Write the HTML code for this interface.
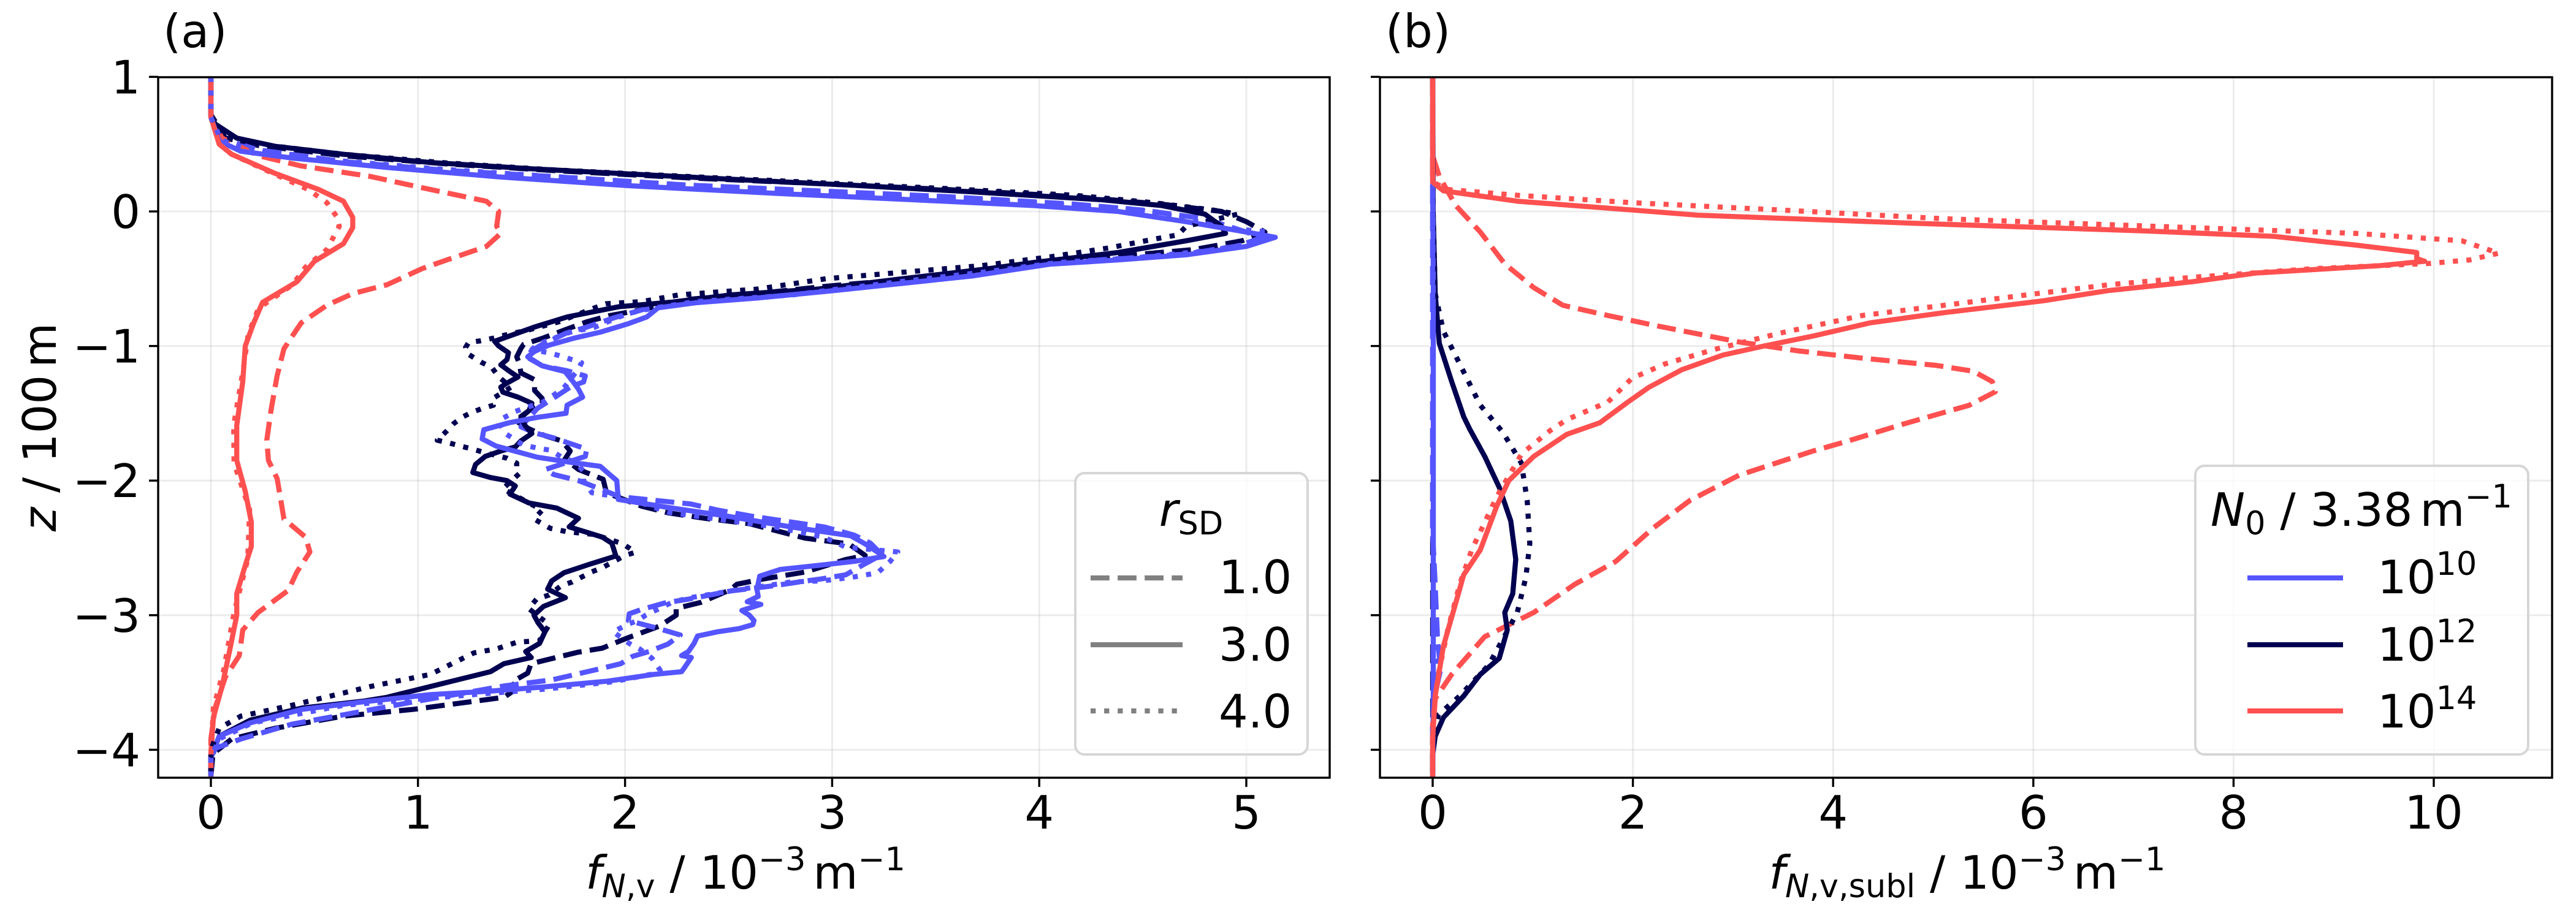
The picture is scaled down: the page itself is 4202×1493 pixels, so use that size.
<!DOCTYPE html>
<html>
<head>
<meta charset="utf-8">
<title>Vertical profiles of f_N,v and f_N,v,subl</title>
<style>
html,body{margin:0;padding:0;background:#fff;}
svg{display:block;font-family:"DejaVu Sans","Liberation Sans",sans-serif;}
</style>
</head>
<body>
<svg id="figure" xmlns="http://www.w3.org/2000/svg" width="4202" height="1493" viewBox="0 0 4202 1493">
  <defs>
    <clipPath id="clip-a"><rect x="258" y="126" width="1911" height="1143"/></clipPath>
    <clipPath id="clip-b"><rect x="2251" y="126" width="1912" height="1143"/></clipPath>
  </defs>
  <rect x="0" y="0" width="4202" height="1493" fill="#fff"/>
  <g id="panel-a">
    <g id="grid-a"></g>
    <g id="lines-a" clip-path="url(#clip-a)"></g>
    <g id="ticks-a"></g>
    <rect x="258" y="126" width="1911" height="1143" fill="none" stroke="#000" stroke-width="3.4"/>
  </g>
  <g id="panel-b">
    <g id="grid-b"></g>
    <g id="lines-b" clip-path="url(#clip-b)"></g>
    <g id="ticks-b"></g>
    <rect x="2251" y="126" width="1912" height="1143" fill="none" stroke="#000" stroke-width="3.4"/>
  </g>

  <text x="266" y="77" font-size="75">(a)</text>
  <text x="2260" y="77" font-size="75">(b)</text>

  <text transform="translate(91,697) rotate(-90)" text-anchor="middle" font-size="75"><tspan font-style="italic">z</tspan> / 100<tspan dx="12">m</tspan></text>

  <text x="1216" y="1450" text-anchor="middle" font-size="75"><tspan font-style="italic">f</tspan><tspan font-size="52.5" dy="14" font-style="italic">N</tspan><tspan font-size="52.5">,v</tspan><tspan dy="-14"> / 10</tspan><tspan font-size="52.5" dy="-30">−3</tspan><tspan dy="30" dx="12">m</tspan><tspan font-size="52.5" dy="-30">−1</tspan></text>
  <text x="3209" y="1450" text-anchor="middle" font-size="75"><tspan font-style="italic">f</tspan><tspan font-size="52.5" dy="14" font-style="italic">N</tspan><tspan font-size="52.5">,v,subl</tspan><tspan dy="-14"> / 10</tspan><tspan font-size="52.5" dy="-30">−3</tspan><tspan dy="30" dx="12">m</tspan><tspan font-size="52.5" dy="-30">−1</tspan></text>

  <g>
    <rect x="1754" y="772" width="379" height="459" rx="15" ry="15" fill="#fff" fill-opacity="0.8" stroke="#d6d6d6" stroke-width="4"/>
    <text x="1943" y="858" text-anchor="middle" font-size="75"><tspan font-style="italic">r</tspan><tspan font-size="52.5" dy="14">SD</tspan></text>
    <line x1="1779" x2="1929" y1="943" y2="943" stroke="#808080" stroke-width="8.33" stroke-dasharray="30.8 13.3"/>
    <text x="1988" y="968" font-size="75">1.0</text>
    <line x1="1779" x2="1929" y1="1052" y2="1052" stroke="#808080" stroke-width="8.33"/>
    <text x="1988" y="1078" font-size="75">3.0</text>
    <line x1="1779" x2="1929" y1="1160" y2="1160" stroke="#808080" stroke-width="8.33" stroke-dasharray="8.33 13.75"/>
    <text x="1988" y="1187" font-size="75">4.0</text>
  </g>

  <g>
    <rect x="3581" y="760" width="543" height="471" rx="15" ry="15" fill="#fff" fill-opacity="0.8" stroke="#d6d6d6" stroke-width="4"/>
    <text x="3852" y="858" text-anchor="middle" font-size="75"><tspan font-style="italic">N</tspan><tspan font-size="52.5" dy="14">0</tspan><tspan dy="-14"> / 3.38</tspan><tspan dx="12">m</tspan><tspan font-size="52.5" dy="-30">−1</tspan></text>
    <line x1="3666" x2="3822" y1="943" y2="943" stroke="#5555ff" stroke-width="8.33"/>
    <text x="3878" y="968" font-size="75">10<tspan font-size="52.5" dy="-30">10</tspan></text>
    <line x1="3666" x2="3822" y1="1052" y2="1052" stroke="#000050" stroke-width="8.33"/>
    <text x="3878" y="1078" font-size="75">10<tspan font-size="52.5" dy="-30">12</tspan></text>
    <line x1="3666" x2="3822" y1="1160" y2="1160" stroke="#ff5050" stroke-width="8.33"/>
    <text x="3878" y="1187" font-size="75">10<tspan font-size="52.5" dy="-30">14</tspan></text>
  </g>
</svg>
<script>
// ---------- tick labels ----------
const xTicksA = [0, 1, 2, 3, 4, 5];
const xTicksB = [0, 2, 4, 6, 8, 10];
const yTicks = [1, 0, -1, -2, -3, -4];

// ---------- panel (a): f_N,v profiles ----------
const aZ_n10_r1 = [1,.7,.545,.457,.37,.305,.26,.196,.153,.11,
  .054,.01,-.054,-.153,-.196,-.257,-.316,-.353,-.38,-.468,
  -.523,-.577,-.632,-.71,-.79,-.867,-.905,-.988,-1.033,-1.08,
  -1.147,-1.184,-1.222,-1.267,-1.3,-1.365,-1.464,-1.6,-1.645,-1.683,
  -1.766,-1.82,-1.917,-1.955,-2,-2.07,-2.12,-2.174,-2.22,-2.264,
  -2.344,-2.405,-2.465,-2.55,-2.63,-2.7,-2.73,-2.753,-2.783,-2.82,
  -2.88,-2.91,-2.96,-2.99,-3.04,-3.09,-3.147,-3.215,-3.27,-3.306,
  -3.36,-3.405,-3.48,-3.526,-3.645,-3.74,-3.81,-3.92,-3.99,-4.08,
  -4.2];
const aF_n10_r1 = [0,0,.04,.23,.64,1.14,1.64,2.3,2.93,3.55,
  4.17,4.5,4.8,5,5.07,4.96,4.71,4.38,4.05,3.675,
  3.34,3.01,2.64,2.13,1.947,1.8,1.715,1.6,1.55,1.523,
  1.6,1.72,1.808,1.8,1.74,1.676,1.576,1.497,1.563,1.656,
  1.815,1.808,1.616,1.656,1.775,1.894,1.974,2.318,2.45,2.61,
  2.96,3.106,3.185,3.24,3.145,3.066,2.95,2.84,2.71,2.51,
  2.31,2.19,2.075,2.02,2.016,2.14,2.267,2.207,2.115,2.036,
  1.98,1.86,1.65,1.415,.976,.64,.39,.145,.02,0,
  0];
const aZ_n12_r1 = [1,.72,.545,.49,.414,.353,.305,.25,.207,.163,
  .11,.054,0,-.076,-.153,-.218,-.283,-.327,-.37,-.425,
  -.512,-.556,-.61,-.654,-.73,-.776,-.82,-.88,-.943,-.988,
  -1.018,-1.08,-1.13,-1.2,-1.25,-1.33,-1.39,-1.426,-1.48,-1.554,
  -1.615,-1.668,-1.705,-1.78,-1.84,-1.917,-1.99,-2.07,-2.113,-2.19,
  -2.24,-2.28,-2.32,-2.427,-2.47,-2.556,-2.586,-2.68,-2.73,-2.77,
  -2.81,-2.905,-2.95,-3,-3.04,-3.08,-3.17,-3.245,-3.276,-3.36,
  -3.43,-3.5,-3.556,-3.61,-3.624,-3.7,-3.75,-3.84,-3.92,-4.03,
  -4.2];
const aF_n12_r1 = [0,0,.07,.23,.64,1.14,1.64,2.3,2.93,3.55,
  4.17,4.59,4.88,5,5.09,4.98,4.75,4.42,4.09,3.76,
  3.3,2.97,2.64,2.3,2.08,1.92,1.815,1.71,1.6,1.51,
  1.497,1.477,1.49,1.497,1.563,1.563,1.6,1.6,1.536,1.47,
  1.536,1.616,1.695,1.735,1.71,1.775,1.894,1.907,1.947,2.08,
  2.21,2.385,2.6,2.868,3.08,3.16,3.066,2.868,2.67,2.54,
  2.51,2.366,2.247,2.247,2.207,2.168,2.01,1.89,1.77,1.546,
  1.53,1.45,1.467,1.415,1.35,.976,.64,.31,.1,.01,
  0];
const aZ_n14_r1 = [1,.7,.545,.414,.338,.26,.163,.076,0,-.11,
  -.163,-.26,-.36,-.425,-.545,-.61,-.697,-.828,-1.02,-1.22,
  -1.48,-1.7,-1.85,-1.985,-2.285,-2.42,-2.53,-2.68,-2.815,-2.98,
  -3.11,-3.3,-3.46,-3.69,-3.92,-4.2];
const aF_n14_r1 = [0,0,.054,.23,.436,.77,1.06,1.33,1.39,1.38,
  1.4,1.33,1.14,1.02,.85,.685,.56,.436,.353,.32,
  .29,.27,.278,.32,.353,.457,.478,.415,.374,.228,
  .154,.137,.07,.02,0,0];
const aZ_n10_r3 = [1,.7,.523,.447,.397,.327,.257,.192,.135,.087,
  .044,0,-.076,-.153,-.192,-.26,-.322,-.36,-.392,-.48,
  -.534,-.588,-.643,-.678,-.716,-.784,-.837,-.897,-.943,-.995,
  -1.04,-1.08,-1.147,-1.19,-1.267,-1.32,-1.38,-1.44,-1.5,-1.53,
  -1.57,-1.622,-1.69,-1.743,-1.826,-1.864,-1.894,-1.947,-2,-2.14,
  -2.2,-2.26,-2.344,-2.41,-2.48,-2.564,-2.6,-2.63,-2.66,-2.71,
  -2.81,-2.86,-2.9,-2.92,-2.965,-3,-3.04,-3.07,-3.1,-3.124,
  -3.155,-3.21,-3.27,-3.3,-3.314,-3.39,-3.42,-3.44,-3.49,-3.533,
  -3.564,-3.59,-3.645,-3.7,-3.8,-3.9,-4.06,-4.2];
const aF_n10_r3 = [0,0,.04,.145,.39,.85,1.39,2.01,2.72,3.385,
  3.97,4.38,4.71,5,5.14,5,4.71,4.38,4.05,3.675,
  3.34,3.01,2.64,2.344,2.16,2.105,2.01,1.88,1.75,1.63,
  1.563,1.53,1.6,1.71,1.75,1.775,1.795,1.72,1.715,1.576,
  1.44,1.318,1.31,1.377,1.576,1.735,1.88,1.92,1.96,1.967,
  2.21,2.477,2.8,3.09,3.17,3.25,3.106,2.934,2.75,2.65,
  2.637,2.643,2.59,2.656,2.564,2.6,2.623,2.617,2.55,2.445,
  2.35,2.333,2.306,2.273,2.32,2.287,2.273,2.14,1.917,1.61,
  1.35,1.06,.73,.44,.19,.04,0,0];
const aZ_n12_r3 = [1,.72,.65,.545,.484,.425,.364,.316,.279,.229,
  .192,.146,.087,.044,-.02,-.11,-.163,-.218,-.305,-.38,
  -.425,-.5,-.577,-.62,-.675,-.708,-.784,-.86,-.965,-1,
  -1.05,-1.1,-1.14,-1.19,-1.23,-1.275,-1.305,-1.343,-1.38,-1.426,
  -1.48,-1.53,-1.59,-1.65,-1.705,-1.75,-1.78,-1.82,-1.88,-1.94,
  -1.977,-2,-2.04,-2.1,-2.166,-2.204,-2.28,-2.344,-2.42,-2.465,
  -2.56,-2.624,-2.685,-2.745,-2.806,-2.87,-2.935,-3,-3.056,-3.124,
  -3.21,-3.27,-3.314,-3.36,-3.42,-3.53,-3.61,-3.64,-3.69,-3.78,
  -3.9,-4.06,-4.2];
const aF_n12_r3 = [0,0,.02,.125,.31,.64,1.06,1.56,2.01,2.64,
  3.13,3.67,4.3,4.59,4.8,4.88,4.9,4.71,4.38,3.97,
  3.76,3.34,2.93,2.51,2.22,1.97,1.72,1.56,1.37,1.39,
  1.437,1.43,1.4,1.444,1.483,1.43,1.4,1.41,1.483,1.55,
  1.536,1.497,1.517,1.55,1.497,1.47,1.4,1.325,1.278,1.265,
  1.35,1.43,1.47,1.444,1.536,1.67,1.775,1.73,1.89,1.936,
  1.956,1.824,1.705,1.646,1.626,1.712,1.606,1.56,1.58,1.613,
  1.587,1.52,1.547,1.415,1.35,1.06,.85,.73,.44,.19,
  .04,0,0];
const aZ_n14_r3 = [1,.7,.5,.425,.283,.163,.076,-.044,-.12,-.24,
  -.37,-.523,-.675,-.828,-1,-1.264,-1.59,-1.85,-2.08,-2.308,
  -2.49,-2.63,-2.84,-3,-3.23,-3.53,-3.76,-4.03,-4.2];
const aF_n14_r3 = [0,0,.04,.1,.31,.52,.64,.685,.685,.64,
  .5,.415,.25,.207,.166,.154,.125,.125,.166,.195,
  .195,.166,.125,.125,.095,.054,.012,0,0];
const aZ_n10_r4 = [1,.7,.53,.45,.38,.315,.265,.2,.14,.065,
  .017,-.054,-.12,-.153,-.24,-.294,-.344,-.38,-.453,-.52,
  -.58,-.62,-.67,-.72,-.76,-.86,-.897,-.988,-1.026,-1.05,
  -1.07,-1.124,-1.17,-1.3,-1.36,-1.42,-1.45,-1.486,-1.554,-1.645,
  -1.705,-1.736,-1.758,-1.773,-1.826,-1.864,-1.93,-2,-2.09,-2.106,
  -2.13,-2.236,-2.344,-2.42,-2.495,-2.53,-2.6,-2.685,-2.72,-2.745,
  -2.753,-2.775,-2.8,-2.83,-2.874,-2.91,-3,-3.04,-3.07,-3.124,
  -3.21,-3.25,-3.32,-3.41,-3.435,-3.495,-3.55,-3.58,-3.67,-3.8,
  -3.92,-4.06,-4.2];
const aF_n10_r4 = [0,0,.05,.2,.6,1.1,1.6,2.25,2.9,3.97,
  4.46,4.71,4.88,5.11,5.02,4.8,4.46,4.09,3.72,3.34,
  3.01,2.81,2.34,2.13,2.01,1.854,1.735,1.576,1.55,1.63,
  1.68,1.79,1.775,1.71,1.66,1.6,1.537,1.47,1.39,1.417,
  1.477,1.51,1.576,1.636,1.695,1.76,1.8,1.8,1.84,1.907,
  2.01,2.21,2.72,2.96,3.066,3.317,3.28,3.22,3.09,2.95,
  2.8,2.71,2.59,2.47,2.3,2.22,2.1,2.06,2.01,1.943,
  2.02,2.07,2.13,2.17,2.14,1.94,1.61,1.35,.64,.2,
  .04,0,0];
const aZ_n12_r4 = [1,.72,.55,.5,.425,.36,.31,.26,.214,.17,
  .12,.065,.01,-.02,-.11,-.174,-.207,-.27,-.338,-.403,
  -.457,-.5,-.577,-.62,-.67,-.686,-.724,-.82,-.88,-.92,
  -.943,-.962,-.973,-1.01,-1.056,-1.094,-1.124,-1.16,-1.23,-1.305,
  -1.388,-1.44,-1.464,-1.494,-1.53,-1.577,-1.63,-1.7,-1.72,-1.743,
  -1.766,-1.79,-1.834,-1.87,-1.91,-1.947,-2.06,-2.22,-2.285,-2.355,
  -2.38,-2.4,-2.47,-2.533,-2.556,-2.647,-2.677,-2.753,-2.783,-2.85,
  -2.88,-2.95,-3.03,-3.07,-3.19,-3.2,-3.25,-3.28,-3.44,-3.53,
  -3.67,-3.75,-3.84,-4,-4.2];
const aF_n12_r4 = [0,0,.06,.23,.64,1.14,1.64,2.3,2.93,3.55,
  4.17,4.55,4.84,4.96,4.71,4.67,4.55,4.34,4.05,3.72,
  3.3,2.97,2.64,2.26,2.08,1.907,1.84,1.68,1.536,1.417,
  1.36,1.3,1.245,1.23,1.238,1.278,1.31,1.357,1.39,1.45,
  1.364,1.364,1.31,1.258,1.212,1.172,1.14,1.093,1.15,1.205,
  1.265,1.318,1.43,1.477,1.477,1.49,1.41,1.6,1.56,1.64,
  1.72,1.85,1.99,2.05,2,1.89,1.84,1.745,1.69,1.633,
  1.573,1.534,1.6,1.634,1.587,1.48,1.38,1.27,1.06,.77,
  .39,.145,.04,0,0];
const aZ_n14_r4 = [1,.7,.5,.425,.283,.163,.065,-.044,-.11,-.283,
  -.414,-.545,-.72,-.915,-1.155,-1.59,-1.87,-2.216,-2.585,-2.98,
  -3.41,-3.69,-4.03,-4.2];
const aF_n14_r4 = [0,0,.04,.1,.3,.47,.56,.61,.62,.56,
  .457,.394,.23,.18,.158,.11,.112,.187,.178,.112,
  .062,.012,0,0];

// ---------- panel (b): f_N,v,subl profiles ----------
const bZ_n10_r1 = [1,-2.4,-2.7,-3.2,-3.4,-3.6,-3.8,-4.2];
const bF_n10_r1 = [0,0,.02,.05,.08,.02,0,0];
const bZ_n12_r1 = [1,-4.2];
const bF_n12_r1 = [0,0];
const bZ_n14_r1 = [1,.414,.26,.044,-.153,-.39,-.566,-.697,-.773,-.85,
  -.97,-1.035,-1.09,-1.144,-1.187,-1.264,-1.34,-1.44,-1.58,-1.71,
  -1.78,-1.96,-2.147,-2.354,-2.6,-2.77,-2.98,-3.16,-3.44,-3.62,
  -3.9,-4.2];
const bF_n14_r1 = [0,0,.066,.23,.476,.72,1.01,1.3,1.75,2.24,
  3.06,3.64,4.29,5.03,5.4,5.59,5.62,5.36,4.7,4.13,
  3.8,3.06,2.57,2.2,1.83,1.42,1.01,.52,.19,.025,
  0,0];
const bZ_n10_r3 = [1,.2,-.5,-3.6,-4.2];
const bF_n10_r3 = [0,0,.006,.006,0];
const bZ_n12_r3 = [1,0,-.61,-.98,-1.264,-1.525,-1.617,-1.82,-2.05,-2.3,
  -2.585,-2.84,-2.98,-3.11,-3.32,-3.44,-3.6,-3.76,-3.9,-4.04,
  -4.2];
const bF_n12_r3 = [0,.005,.025,.066,.19,.31,.37,.52,.665,.78,
  .83,.8,.72,.745,.665,.476,.31,.107,.025,0,
  0];
const bZ_n14_r3 = [1,.218,.153,.076,.011,-.028,-.087,-.146,-.185,-.25,
  -.305,-.35,-.37,-.403,-.457,-.523,-.588,-.664,-.752,-.828,
  -.926,-1,-1.067,-1.176,-1.307,-1.416,-1.57,-1.656,-1.82,-2,
  -2.19,-2.515,-2.7,-2.91,-3.23,-3.6,-3.92,-4.2];
const bF_n14_r3 = [0,0,.107,.845,1.99,2.65,4.78,7.16,8.4,9.22,
  9.83,9.83,9.91,9.46,8.23,7.58,6.75,6.1,5.11,4.37,
  3.8,3.31,2.9,2.49,2.16,1.95,1.67,1.34,1.01,.76,
  .64,.476,.31,.23,.107,.025,0,0];
const bZ_n10_r4 = [1,-2.4,-2.8,-3.2,-3.5,-3.8,-4.2];
const bF_n10_r4 = [0,0,.025,.04,.03,0,0];
const bZ_n12_r4 = [1,0,-.61,-.89,-1.133,-1.44,-1.64,-1.87,-2.147,-2.47,
  -2.72,-2.98,-3.18,-3.37,-3.6,-3.74,-3.92,-4.2];
const bF_n12_r4 = [0,.005,.025,.107,.27,.476,.7,.886,.944,.97,
  .93,.845,.7,.56,.27,.057,0,0];
const bZ_n14_r4 = [1,.218,.163,.12,.065,.011,-.054,-.12,-.163,-.218,
  -.31,-.36,-.386,-.425,-.49,-.545,-.62,-.697,-.773,-.904,
  -1.024,-1.133,-1.24,-1.416,-1.547,-1.63,-1.8,-2.12,-2.515,-2.77,
  -3.11,-3.46,-3.8,-4.2];
const bF_n14_r4 = [0,0,.148,.845,1.99,3.47,5.11,7.58,9.22,10.28,
  10.65,10.36,9.96,8.8,7.58,6.75,5.93,5.11,4.29,3.47,
  2.82,2.32,1.99,1.75,1.34,1.17,.89,.64,.39,.27,
  .15,.05,0,0];

// ---------- axes ----------
const zToY = z => 345 - 219.6 * z;
const fToXa = f => 344 + 337.8 * f;
const fToXb = f => 2337 + 163.3 * f;

const NS = 'http://www.w3.org/2000/svg';
const colorOf = { n10: '#5555ff', n12: '#000050', n14: '#ff5050' };
const dashOf = { r1: '30.8 13.3', r3: null, r4: '8.33 13.75' };

function make(tag, attrs, parent) {
  const el = document.createElementNS(NS, tag);
  for (const k in attrs) el.setAttribute(k, attrs[k]);
  parent.appendChild(el);
  return el;
}

function drawLine(parent, xFn, fs, zs, n, r, name) {
  const count = Math.min(fs.length, zs.length);
  const pts = [];
  for (let i = 0; i < count; i++) pts.push(xFn(fs[i]).toFixed(1) + ',' + zToY(zs[i]).toFixed(1));
  const attrs = { points: pts.join(' '), fill: 'none', stroke: colorOf[n], 'stroke-width': 8.33, 'stroke-linejoin': 'round' };
  if (dashOf[r]) attrs['stroke-dasharray'] = dashOf[r];
  const el = make('polyline', attrs, parent);
  
  
}

function drawAxes(gridId, tickId, left, right, xFn, xTicks, showY) {
  const grid = document.getElementById(gridId);
  const ticks = document.getElementById(tickId);
  xTicks.forEach(t => {
    const x = xFn(t);
    const g = make('line', { x1: x, x2: x, y1: 126, y2: 1269, stroke: '#b0b0b0', 'stroke-opacity': 0.25, 'stroke-width': 2.8 }, grid);
    
    
    const m = make('line', { x1: x, x2: x, y1: 1269, y2: 1284, stroke: '#000', 'stroke-width': 3.4 }, ticks);
    
    
    const l = make('text', { x: x, y: 1352, 'text-anchor': 'middle', 'font-size': 75 }, ticks);
    l.textContent = String(t);
    
    
  });
  yTicks.forEach(t => {
    const y = zToY(t);
    const g = make('line', { x1: left, x2: right, y1: y, y2: y, stroke: '#b0b0b0', 'stroke-opacity': 0.25, 'stroke-width': 2.8 }, grid);
    
    
    const m = make('line', { x1: left - 15, x2: left, y1: y, y2: y, stroke: '#000', 'stroke-width': 3.4 }, ticks);
    
    
    if (showY) {
      const l = make('text', { x: 229, y: y + 27, 'text-anchor': 'end', 'font-size': 75 }, ticks);
      l.textContent = String(t).replace('-', '\u2212');
      
      
    }
  });
}

drawAxes('grid-a', 'ticks-a', 258, 2169, fToXa, xTicksA, true);
drawAxes('grid-b', 'ticks-b', 2251, 4163, fToXb, xTicksB, false);

const la = document.getElementById('lines-a');
drawLine(la, fToXa, aF_n12_r1, aZ_n12_r1, 'n12', 'r1', 'line-a-n12-r1');
drawLine(la, fToXa, aF_n10_r1, aZ_n10_r1, 'n10', 'r1', 'line-a-n10-r1');
drawLine(la, fToXa, aF_n14_r1, aZ_n14_r1, 'n14', 'r1', 'line-a-n14-r1');
drawLine(la, fToXa, aF_n12_r3, aZ_n12_r3, 'n12', 'r3', 'line-a-n12-r3');
drawLine(la, fToXa, aF_n10_r3, aZ_n10_r3, 'n10', 'r3', 'line-a-n10-r3');
drawLine(la, fToXa, aF_n14_r3, aZ_n14_r3, 'n14', 'r3', 'line-a-n14-r3');
drawLine(la, fToXa, aF_n12_r4, aZ_n12_r4, 'n12', 'r4', 'line-a-n12-r4');
drawLine(la, fToXa, aF_n14_r4, aZ_n14_r4, 'n14', 'r4', 'line-a-n14-r4');
drawLine(la, fToXa, aF_n10_r4, aZ_n10_r4, 'n10', 'r4', 'line-a-n10-r4');

const lb = document.getElementById('lines-b');
drawLine(lb, fToXb, bF_n12_r1, bZ_n12_r1, 'n12', 'r1', 'line-b-n12-r1');
drawLine(lb, fToXb, bF_n14_r1, bZ_n14_r1, 'n14', 'r1', 'line-b-n14-r1');
drawLine(lb, fToXb, bF_n10_r1, bZ_n10_r1, 'n10', 'r1', 'line-b-n10-r1');
drawLine(lb, fToXb, bF_n12_r3, bZ_n12_r3, 'n12', 'r3', 'line-b-n12-r3');
drawLine(lb, fToXb, bF_n10_r3, bZ_n10_r3, 'n10', 'r3', 'line-b-n10-r3');
drawLine(lb, fToXb, bF_n12_r4, bZ_n12_r4, 'n12', 'r4', 'line-b-n12-r4');
drawLine(lb, fToXb, bF_n10_r4, bZ_n10_r4, 'n10', 'r4', 'line-b-n10-r4');
drawLine(lb, fToXb, bF_n14_r4, bZ_n14_r4, 'n14', 'r4', 'line-b-n14-r4');
drawLine(lb, fToXb, bF_n14_r3, bZ_n14_r3, 'n14', 'r3', 'line-b-n14-r3');
</script>
</body>
</html>
